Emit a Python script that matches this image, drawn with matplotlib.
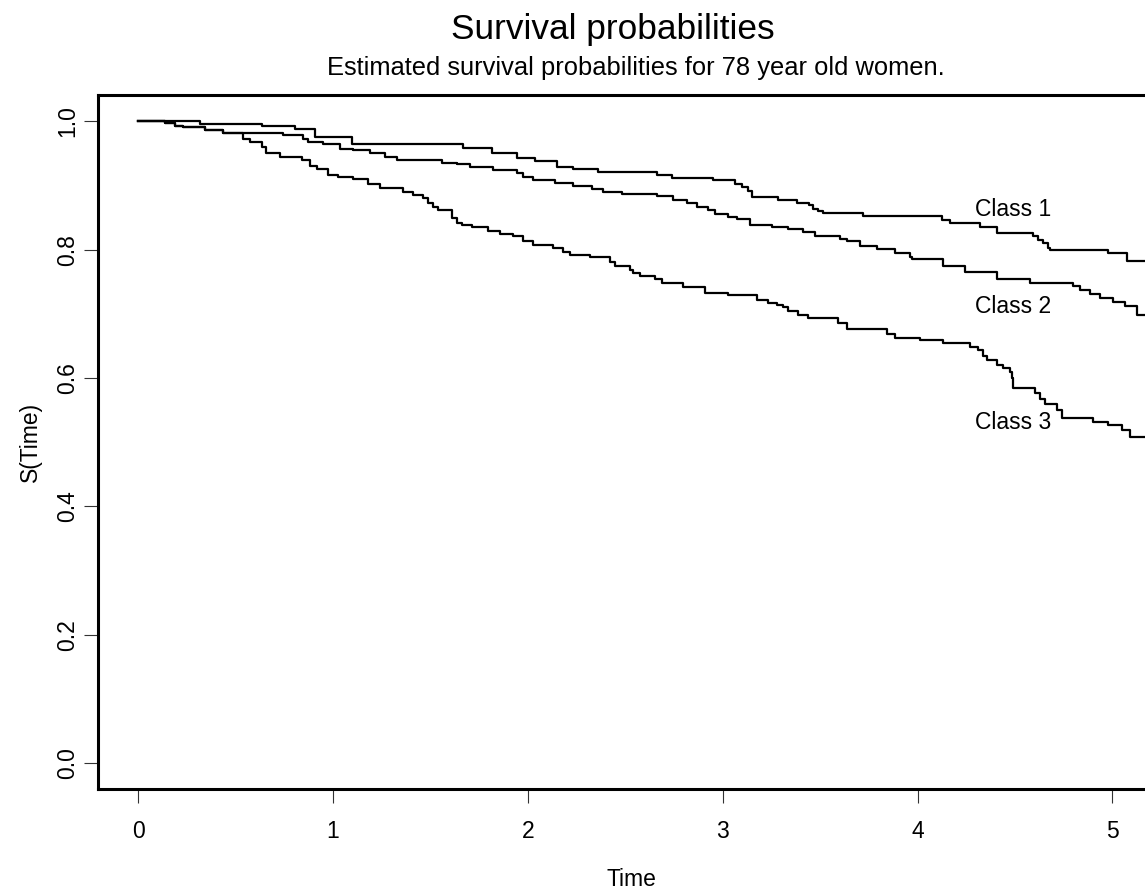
import numpy as np
import matplotlib.pyplot as plt

plt.rcParams['font.family'] = ['Liberation Sans', 'DejaVu Sans']

# step points (time, survival)
t1 = [0, 0.318, 0.637, 0.806, 0.909, 1.099, 1.668, 1.817, 1.946, 2.038, 2.151, 2.233, 2.361,
      2.664, 2.741, 2.952, 3.065, 3.101, 3.131, 3.152, 3.285, 3.383, 3.445, 3.465, 3.491, 3.516,
      3.722, 4.127, 4.168, 4.322, 4.410, 4.594, 4.620, 4.646, 4.671, 4.682, 4.979, 5.077, 5.3]
s1 = [1.0, 0.996, 0.993, 0.988, 0.976, 0.964, 0.958, 0.951, 0.942, 0.938, 0.929, 0.925, 0.921,
      0.917, 0.912, 0.908, 0.903, 0.897, 0.891, 0.882, 0.878, 0.873, 0.869, 0.864, 0.860, 0.857,
      0.853, 0.846, 0.841, 0.835, 0.826, 0.822, 0.815, 0.810, 0.803, 0.799, 0.794, 0.783, 0.783]

t2 = [0, 0.139, 0.190, 0.231, 0.344, 0.436, 0.744, 0.847, 0.873, 0.950, 1.037, 1.104, 1.191,
      1.268, 1.330, 1.561, 1.638, 1.704, 1.822, 1.946, 1.976, 2.028, 2.141, 2.233, 2.331, 2.387,
      2.485, 2.664, 2.746, 2.818, 2.870, 2.926, 2.962, 3.029, 3.075, 3.142, 3.255, 3.337, 3.414,
      3.475, 3.604, 3.640, 3.706, 3.794, 3.886, 3.963, 3.973, 4.132, 4.245, 4.410, 4.579, 4.800,
      4.836, 4.887, 4.938, 5.005, 5.067, 5.128, 5.3]
s2 = [1.0, 0.997, 0.993, 0.991, 0.986, 0.982, 0.978, 0.972, 0.968, 0.965, 0.957, 0.955, 0.951,
      0.944, 0.939, 0.935, 0.933, 0.928, 0.924, 0.919, 0.913, 0.908, 0.904, 0.899, 0.895, 0.890,
      0.887, 0.884, 0.878, 0.873, 0.867, 0.862, 0.855, 0.851, 0.847, 0.838, 0.835, 0.832, 0.828,
      0.821, 0.817, 0.814, 0.806, 0.801, 0.794, 0.789, 0.786, 0.775, 0.765, 0.755, 0.748, 0.743,
      0.737, 0.731, 0.724, 0.718, 0.712, 0.698, 0.698]

t3 = [0, 0.139, 0.190, 0.231, 0.344, 0.436, 0.539, 0.575, 0.637, 0.657, 0.729, 0.842, 0.883,
      0.919, 0.975, 1.027, 1.104, 1.181, 1.242, 1.360, 1.412, 1.463, 1.489, 1.514, 1.540, 1.612,
      1.638, 1.663, 1.715, 1.797, 1.858, 1.925, 1.976, 2.028, 2.130, 2.182, 2.218, 2.320, 2.423,
      2.449, 2.526, 2.541, 2.577, 2.654, 2.690, 2.798, 2.911, 3.029, 3.178, 3.234, 3.280, 3.311,
      3.337, 3.388, 3.439, 3.593, 3.640, 3.845, 3.886, 4.014, 4.132, 4.271, 4.312, 4.338, 4.358,
      4.410, 4.440, 4.476, 4.484, 4.492, 4.605, 4.630, 4.656, 4.718, 4.743, 4.902, 4.979, 5.051,
      5.092, 5.3]
s3 = [1.0, 0.997, 0.993, 0.991, 0.986, 0.982, 0.973, 0.968, 0.960, 0.950, 0.944, 0.940, 0.931,
      0.925, 0.916, 0.913, 0.910, 0.902, 0.896, 0.890, 0.885, 0.880, 0.872, 0.867, 0.861, 0.850,
      0.841, 0.838, 0.835, 0.829, 0.825, 0.821, 0.814, 0.807, 0.803, 0.796, 0.792, 0.789, 0.781,
      0.775, 0.769, 0.763, 0.759, 0.755, 0.748, 0.741, 0.733, 0.729, 0.721, 0.717, 0.713, 0.710,
      0.705, 0.698, 0.693, 0.685, 0.677, 0.669, 0.662, 0.659, 0.655, 0.648, 0.643, 0.635, 0.628,
      0.620, 0.616, 0.610, 0.600, 0.584, 0.576, 0.568, 0.560, 0.550, 0.537, 0.532, 0.526, 0.519,
      0.508, 0.508]

labels = ['Class 1', 'Class 2', 'Class 3']
label_x = 4.49
label_y = [0.862, 0.711, 0.530]

xticks = [0, 1, 2, 3, 4, 5]
yticks = [0.0, 0.2, 0.4, 0.6, 0.8, 1.0]

fig = plt.figure(figsize=(11.45, 8.9), dpi=100)
ax = fig.add_axes([0.0860, 0.1131, 0.9315, 0.7802])

for t, s in [(t1, s1), (t2, s2), (t3, s3)]:
    ax.step(t, s, where='post', color='black', lw=1.6)

for lab, y in zip(labels, label_y):
    ax.text(label_x, y, lab, ha='center', va='center', fontsize=16.5)

ax.set_xlim(-0.203, 5.27)
ax.set_ylim(-0.041, 1.041)
ax.spines['right'].set_visible(False)
for sp in ['left', 'bottom', 'top']:
    ax.spines[sp].set_linewidth(2.2)

ax.set_xticks(xticks)
ax.set_xticklabels([str(v) for v in xticks])
ax.set_yticks(yticks)
ax.set_yticklabels(['%.1f' % v for v in yticks], rotation=90, va='center')
ax.tick_params(length=10, width=0.8, color='#333333', labelsize=16.5)
ax.tick_params(axis='x', pad=12)
ax.tick_params(axis='y', pad=4)

ax.set_xlabel('Time', fontsize=16.5, labelpad=18)
ax.set_ylabel('S(Time)', fontsize=16.5, labelpad=10)

fig.text(0.535, 1 - 30 / 890, 'Survival probabilities', ha='center', va='center', fontsize=25.4)
fig.text(0.555, 1 - 68 / 890, 'Estimated survival probabilities for 78 year old women.',
         ha='center', va='center', fontsize=18.4)

fig.savefig('out.png', dpi=100)
